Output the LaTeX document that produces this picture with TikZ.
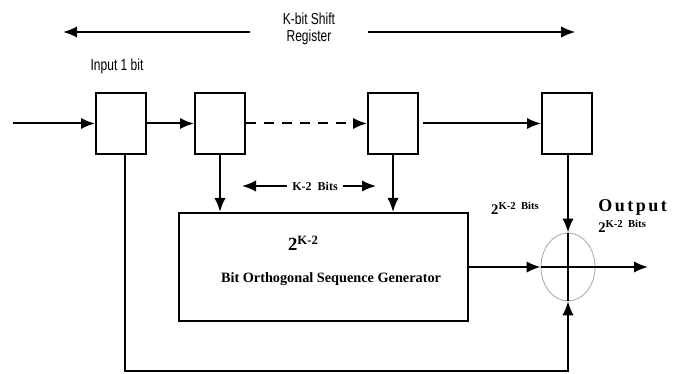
\documentclass[tikz,border=0pt]{standalone}
\usepackage{fontspec}
\setmainfont{Liberation Serif}
\newfontfamily\narrowsans[FakeStretch=0.75]{Liberation Sans}
\newfontfamily\spacedserif[LetterSpace=14]{Liberation Serif}
\usetikzlibrary{arrows.meta,calc,positioning,shapes.geometric}
\newcommand{\supsz}[2]{\raisebox{0.7ex}{\fontsize{#1}{#1}\selectfont #2}}

\begin{document}
\begin{tikzpicture}[x=0.75pt, y=-0.75pt,
  reg/.style={draw, line width=1.5pt, minimum width=37.5pt, minimum height=45.75pt, inner sep=0pt},
  arr/.style={-{Latex[length=10.5pt,width=8.5pt]}, line width=1.5pt},
  lbl/.style={font={\narrowsans\fontsize{12}{12.75}\selectfont}, inner sep=0pt},
  bits/.style={font={\bfseries\fontsize{9}{10}\selectfont}, inner sep=0pt}]
\useasboundingbox (0,0) rectangle (678,374);
% --- registro a scorrimento ---
\node[reg] (r1) at (121,123.5) {};
\node[reg] (r2) at (220,123.5) {};
\node[reg] (r3) at (393,123.5) {};
\node[reg] (r4) at (567,123.5) {};
\node[lbl] (inlbl) at (117,66) {Input 1 bit};
\node[lbl, align=center, minimum width=88.5pt] (title) at (309,29) {K-bit Shift\\Register};
\coordinate (tl) at (63,32);
\coordinate (tr) at (575,32);
\draw[arr] (title.west |- tl) -- (tl);
\draw[arr, line width=0.8pt] (title.east |- tr) -- (tr);
\coordinate (in) at (13,123.5);
\draw[arr] (in) -- (r1.west);
\draw[arr] (r1) -- (r2);
\draw[arr, dash pattern=on 7.5pt off 6pt] (r2) -- (r3);
\draw[arr] ([xshift=3pt]r3.east) -- (r4);
% --- generatore ---
\node[draw, line width=1.5pt, minimum width=216.75pt, minimum height=81pt] (gen) at (323.5,267) {};
\node[inner sep=0pt, font={\bfseries\fontsize{14}{16}\selectfont}] (genexp) at (303,243) {2\supsz{9.5}{K-2}};
\node[inner sep=0pt, font={\bfseries\fontsize{10.7}{12}\selectfont}] (genlbl) at (331,279) {Bit Orthogonal Sequence Generator};
\draw[arr] (r2) -- (r2 |- gen.north);
\draw[arr] (r3) -- (r3 |- gen.north);
\node[bits, minimum width=41pt] (kbits) at (315,186) {K-2~ Bits};
\coordinate (kl) at (242,185);
\coordinate (kr) at (376,185);
\draw[arr] (kbits.west) -- (kbits.west -| kl);
\draw[arr] (kbits.east) -- (kbits.east -| kr);
% --- sommatore ---
\node[draw=gray!70, line width=0.6pt, ellipse, minimum width=40.5pt, minimum height=51pt, inner sep=0pt] (sum) at (568,267) {};
\draw[line width=1.5pt] (sum.north) -- (sum.south) (sum.west) -- (sum.east);
\draw[arr] (r4.south -| sum.north) -- (sum.north);
\draw[arr] (gen) -- (sum);
\coordinate (out) at (648,267);
\draw[arr] (sum.east) -- (out);
\coordinate (low) at (0,371);
\draw[arr, line width=1pt] ([xshift=3pt]r1.south) -- ([xshift=3pt]r1.south |- low) -| (sum.south);
\node[inner sep=0pt, font={\bfseries\fontsize{11}{12}\selectfont}] (bitsum) at (515,208) {2\supsz{8}{K-2~ Bits}};
\node[anchor=west, inner sep=0pt, font={\spacedserif\bfseries\fontsize{13.5}{15}\selectfont}] (outlbl) at (598,207) {Output};
\node[anchor=west, inner sep=0pt, font={\bfseries\fontsize{11}{12}\selectfont}] (outbits) at (598,226) {2\supsz{8}{K-2~ Bits}};
\end{tikzpicture}
\end{document}
